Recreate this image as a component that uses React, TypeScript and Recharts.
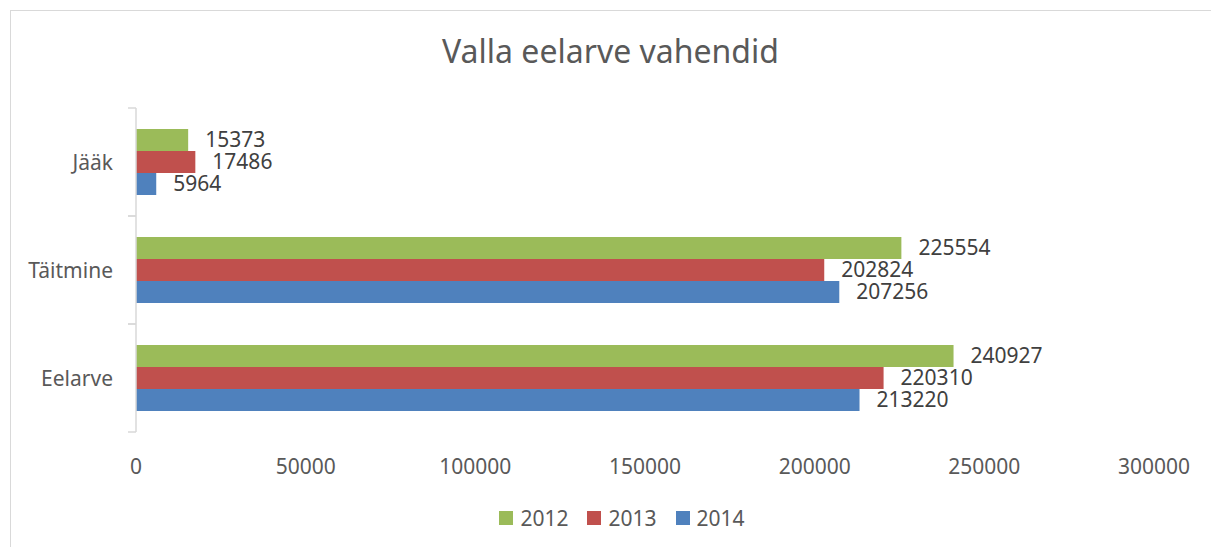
import { BarChart, Bar, XAxis, YAxis, Legend, LabelList } from 'recharts';

const categories = ['Jääk', 'Täitmine', 'Eelarve'];
const values2012 = [15373, 225554, 240927];
const values2013 = [17486, 202824, 220310];
const values2014 = [5964, 207256, 213220];
const xTicks = [0, 50000, 100000, 150000, 200000, 250000, 300000];

const series = [
  { key: 'y2012', name: '2012', color: '#9BBB59' },
  { key: 'y2013', name: '2013', color: '#C0504D' },
  { key: 'y2014', name: '2014', color: '#4F81BD' },
];

const data = categories.map((name, i) => ({
  name,
  y2012: values2012[i],
  y2013: values2013[i],
  y2014: values2014[i],
}));

const FONT = '"Noto Sans", "Open Sans", sans-serif';
const PLOT_TOP = 108;
const PLOT_HEIGHT = 324;
const HALF_BAND = PLOT_HEIGHT / categories.length / 2;
const Y_TICK_MARGIN = 23;

// category label plus the small marks at band edges (excel style)
const YTick = ({ x, y, payload }: any) => {
  const axisX = x + Y_TICK_MARGIN;
  return (
    <g>
      <line x1={axisX - 8} x2={axisX} y1={y - HALF_BAND} y2={y - HALF_BAND} stroke='#d9d9d9' strokeWidth={1.5} />
      <line x1={axisX - 8} x2={axisX} y1={y + HALF_BAND} y2={y + HALF_BAND} stroke='#d9d9d9' strokeWidth={1.5} />
      <text x={x} y={y} textAnchor='end' dominantBaseline='central' fill='#595959' fontSize={21} fontFamily={FONT}>
        {payload.value}
      </text>
    </g>
  );
};

const LegendContent = () => (
  <div
    style={{
      height: 30,
      display: 'flex',
      justifyContent: 'center',
      alignItems: 'center',
      paddingLeft: 90,
      boxSizing: 'border-box',
      fontFamily: FONT,
      fontSize: 21,
      color: '#595959',
    }}
  >
    {series.map((s, i) => (
      <div key={s.key} style={{ display: 'flex', alignItems: 'center', marginRight: i < series.length - 1 ? 19 : 0 }}>
        <span style={{ width: 14, height: 14, background: s.color, display: 'inline-block', marginRight: 7 }} />
        <span>{s.name}</span>
      </div>
    ))}
  </div>
);

const App = () => {
  return (
    <div
      style={{
        position: 'absolute',
        left: 0,
        top: 0,
        width: 1211,
        height: 547,
        overflow: 'hidden',
        background: '#fff',
        fontFamily: FONT,
      }}
    >
      <div
        style={{
          position: 'absolute',
          left: 10,
          top: 10,
          width: 1240,
          height: 580,
          border: '1.5px solid #d9d9d9',
        }}
      />
      <div
        style={{
          position: 'absolute',
          left: 0,
          top: 35,
          width: 1221,
          height: 32,
          lineHeight: '32px',
          textAlign: 'center',
          fontSize: 32,
          color: '#595959',
        }}
      >
        Valla eelarve vahendid
      </div>
      <BarChart
        width={1211}
        height={547}
        data={data}
        layout='vertical'
        margin={{ top: PLOT_TOP, right: 57, bottom: 14, left: 0 }}
        barCategoryGap={21}
        barGap={0}
        style={{ position: 'absolute', left: 0, top: 0 }}
      >
        <XAxis
          type='number'
          domain={[0, 300000]}
          ticks={xTicks}
          interval={0}
          axisLine={false}
          tickLine={false}
          tickSize={0}
          tickMargin={27}
          height={71}
          tick={{ fill: '#595959', fontSize: 21, fontFamily: FONT }}
        />
        <YAxis
          type='category'
          dataKey='name'
          width={136}
          axisLine={{ stroke: '#d9d9d9', strokeWidth: 1.5 }}
          tickLine={false}
          tickSize={0}
          tickMargin={Y_TICK_MARGIN}
          tick={<YTick />}
          interval={0}
        />
        <Legend verticalAlign='bottom' content={<LegendContent />} />
        {series.map((s) => (
          <Bar key={s.key} dataKey={s.key} name={s.name} fill={s.color} isAnimationActive={false}>
            <LabelList
              dataKey={s.key}
              position='right'
              offset={17}
              fill='#404040'
              fontSize={21}
              fontFamily={FONT}
            />
          </Bar>
        ))}
      </BarChart>
    </div>
  );
};

export default App;
